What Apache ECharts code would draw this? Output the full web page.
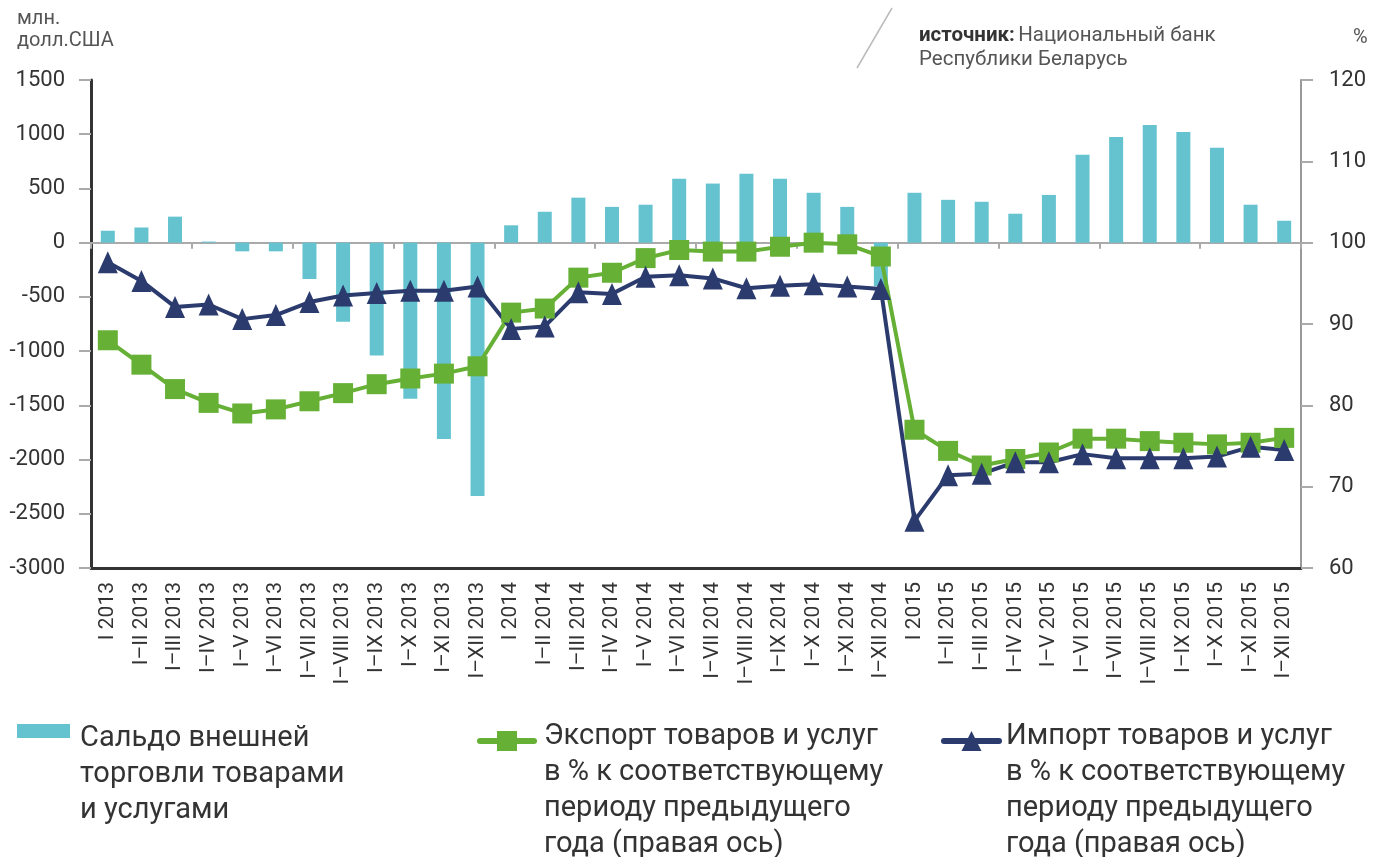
<!DOCTYPE html>
<html>
<head>
<meta charset="utf-8">
<script src="https://cdn.jsdelivr.net/npm/echarts@6/dist/echarts.min.js"></script>
<style>
  html, body { margin: 0; padding: 0; background: #fff; }
  #main { width: 1376px; height: 857px; }
</style>
</head>
<body>
<div id="main"></div>
<script>
// периоды (нарастающим итогом)
const categories = [
  'I 2013', 'I–II 2013', 'I–III 2013', 'I–IV 2013', 'I–V 2013', 'I–VI 2013',
  'I–VII 2013', 'I–VIII 2013', 'I–IX 2013', 'I–X 2013', 'I–XI 2013', 'I–XII 2013',
  'I 2014', 'I–II 2014', 'I–III 2014', 'I–IV 2014', 'I–V 2014', 'I–VI 2014',
  'I–VII 2014', 'I–VIII 2014', 'I–IX 2014', 'I–X 2014', 'I–XI 2014', 'I–XII 2014',
  'I 2015', 'I–II 2015', 'I–III 2015', 'I–IV 2015', 'I–V 2015', 'I–VI 2015',
  'I–VII 2015', 'I–VIII 2015', 'I–IX 2015', 'I–X 2015', 'I–XI 2015', 'I–XII 2015'
];

// сальдо, млн. долл. США (левая ось)
const balance = [
  110, 140, 240, 10, -80, -80, -335, -730, -1040, -1440, -1810, -2335,
  160, 285, 415, 330, 350, 590, 545, 635, 590, 460, 330, -400,
  460, 395, 377, 267, 440, 810, 975, 1085, 1020, 875, 350, 202
];

// экспорт, % (правая ось)
const exportPct = [
  88.0, 85.0, 82.0, 80.3, 79.0, 79.5, 80.5, 81.5, 82.6, 83.3, 83.9, 84.8,
  91.4, 91.9, 95.7, 96.3, 98.1, 99.1, 98.9, 98.9, 99.5, 100.0, 99.8, 98.3,
  77.0, 74.4, 72.6, 73.4, 74.2, 75.9, 75.9, 75.6, 75.4, 75.2, 75.4, 76.0
];

// импорт, % (правая ось)
const importPct = [
  97.6, 95.3, 92.1, 92.4, 90.6, 91.1, 92.7, 93.5, 93.8, 94.1, 94.1, 94.6,
  89.4, 89.7, 93.9, 93.7, 95.8, 96.0, 95.6, 94.4, 94.7, 94.9, 94.6, 94.3,
  65.8, 71.4, 71.6, 73.0, 73.0, 74.0, 73.5, 73.5, 73.5, 73.7, 74.9, 74.5
];

const nameBalance = 'Сальдо внешней торговли товарами и услугами';
const nameExport = 'Экспорт товаров и услуг в % к соответствующему периоду предыдущего года (правая ось)';
const nameImport = 'Импорт товаров и услуг в % к соответствующему периоду предыдущего года (правая ось)';

const legendLines = {};
legendLines[nameBalance] = ['Сальдо внешней', 'торговли товарами', 'и услугами'];
legendLines[nameExport] = ['Экспорт товаров и услуг', 'в % к соответствующему', 'периоду предыдущего', 'года (правая ось)'];
legendLines[nameImport] = ['Импорт товаров и услуг', 'в % к соответствующему', 'периоду предыдущего', 'года (правая ось)'];

const FONT = 'Roboto';
const cyan = '#65c3d0';
const green = '#66b035';
const navy = '#2b3b6e';

let myChart = echarts.init(document.getElementById('main'));

// the first text line sits next to the icon, the rest hang below it:
// an empty spacer line on top keeps the block centred on line one
function legendOpt(item, left, top, w, h, spacer, padLeft) {
  return {
    data: [item],
    left: left,
    top: top,
    padding: 0,
    itemWidth: w,
    itemHeight: h,
    selectedMode: false,
    formatter: function (n) {
      return '{e| }\n' + legendLines[n].map(function (s) { return '{t|' + s + '}'; }).join('\n');
    },
    lineStyle: { width: 6, cap: 'round' },
    textStyle: {
      fontFamily: FONT,
      fontSize: 29,
      color: '#333',
      padding: [0, 0, 0, padLeft],
      rich: {
        e: { fontSize: 4, lineHeight: spacer },
        t: { fontFamily: FONT, fontSize: 29, lineHeight: 36, color: '#333' }
      }
    }
  };
}

let option = {
  animation: false,
  textStyle: { fontFamily: FONT },
  grid: { left: 91, right: 75, top: 80, bottom: 289 },
  legend: [
    legendOpt({ name: nameBalance, icon: 'rect' }, 17, 675, 53, 14, 88, 5),
    legendOpt(nameExport, 477, 667, 54, 25, 100, 5),
    legendOpt(nameImport, 941, 667, 55, 25, 100, 2)
  ],
  graphic: [
    {
      type: 'text', left: 17, top: 8,
      style: { text: 'млн.\nдолл.США', fontFamily: FONT, fontSize: 20, lineHeight: 22, fill: '#555' }
    },
    {
      type: 'text', left: 1353, top: 27,
      style: { text: '%', fontFamily: FONT, fontSize: 20, lineHeight: 22, fill: '#555' }
    },
    {
      type: 'line',
      shape: { x1: 857, y1: 68, x2: 892, y2: 8 },
      style: { stroke: '#bbb', lineWidth: 1.5 }
    },
    {
      type: 'text', left: 919, top: 25,
      style: {
        text: '{b|источник:} {n|Национальный банк}\n{n|Республики Беларусь}',
        rich: {
          b: { fontFamily: FONT, fontSize: 20.5, lineHeight: 24, fontWeight: 'bold', fill: '#333' },
          n: { fontFamily: FONT, fontSize: 20.5, lineHeight: 24, fill: '#555' }
        }
      }
    }
  ],
  xAxis: [
    {
      type: 'category',
      data: categories,
      position: 'bottom',
      axisLine: { onZero: false, lineStyle: { color: '#333', width: 3 } },
      axisTick: { show: false },
      axisLabel: { interval: 0, rotate: 90, fontSize: 21, color: '#333', margin: 14 }
    },
    {
      type: 'category',
      data: categories,
      position: 'top',
      axisLine: { onZero: true, onZeroAxisIndex: 0, lineStyle: { color: '#aaa', width: 2 } },
      axisTick: { show: true, inside: true, length: 6, lineStyle: { color: '#aaa', width: 2 } },
      axisLabel: { show: false }
    }
  ],
  yAxis: [
    {
      type: 'value',
      position: 'left',
      min: -3000,
      max: 1500,
      interval: 500,
      axisLine: { show: true, lineStyle: { color: '#333', width: 3 } },
      axisTick: { show: true, length: 12, lineStyle: { color: '#aaa', width: 2 } },
      axisLabel: { fontSize: 22, color: '#333', margin: 26, formatter: function (v) { return String(v); } },
      splitLine: { show: false }
    },
    {
      type: 'value',
      position: 'right',
      min: 60,
      max: 120,
      interval: 10,
      axisLine: { show: true, lineStyle: { color: '#999', width: 2 } },
      axisTick: { show: true, length: 12, lineStyle: { color: '#aaa', width: 2 } },
      axisLabel: { fontSize: 22, color: '#333', margin: 28 },
      splitLine: { show: false }
    }
  ],
  series: [
    {
      name: nameBalance,
      type: 'bar',
      xAxisIndex: 0,
      yAxisIndex: 0,
      data: balance,
      barWidth: 14,
      itemStyle: { color: cyan }
    },
    {
      name: nameExport,
      type: 'line',
      xAxisIndex: 0,
      yAxisIndex: 1,
      data: exportPct,
      symbol: 'rect',
      symbolSize: 20,
      lineStyle: { width: 4, color: green },
      itemStyle: { color: green }
    },
    {
      name: nameImport,
      type: 'line',
      xAxisIndex: 0,
      yAxisIndex: 1,
      data: importPct,
      symbol: 'triangle',
      symbolSize: [20, 22],
      lineStyle: { width: 4, color: navy },
      itemStyle: { color: navy }
    }
  ]
};

myChart.setOption(option);
</script>
</body>
</html>
